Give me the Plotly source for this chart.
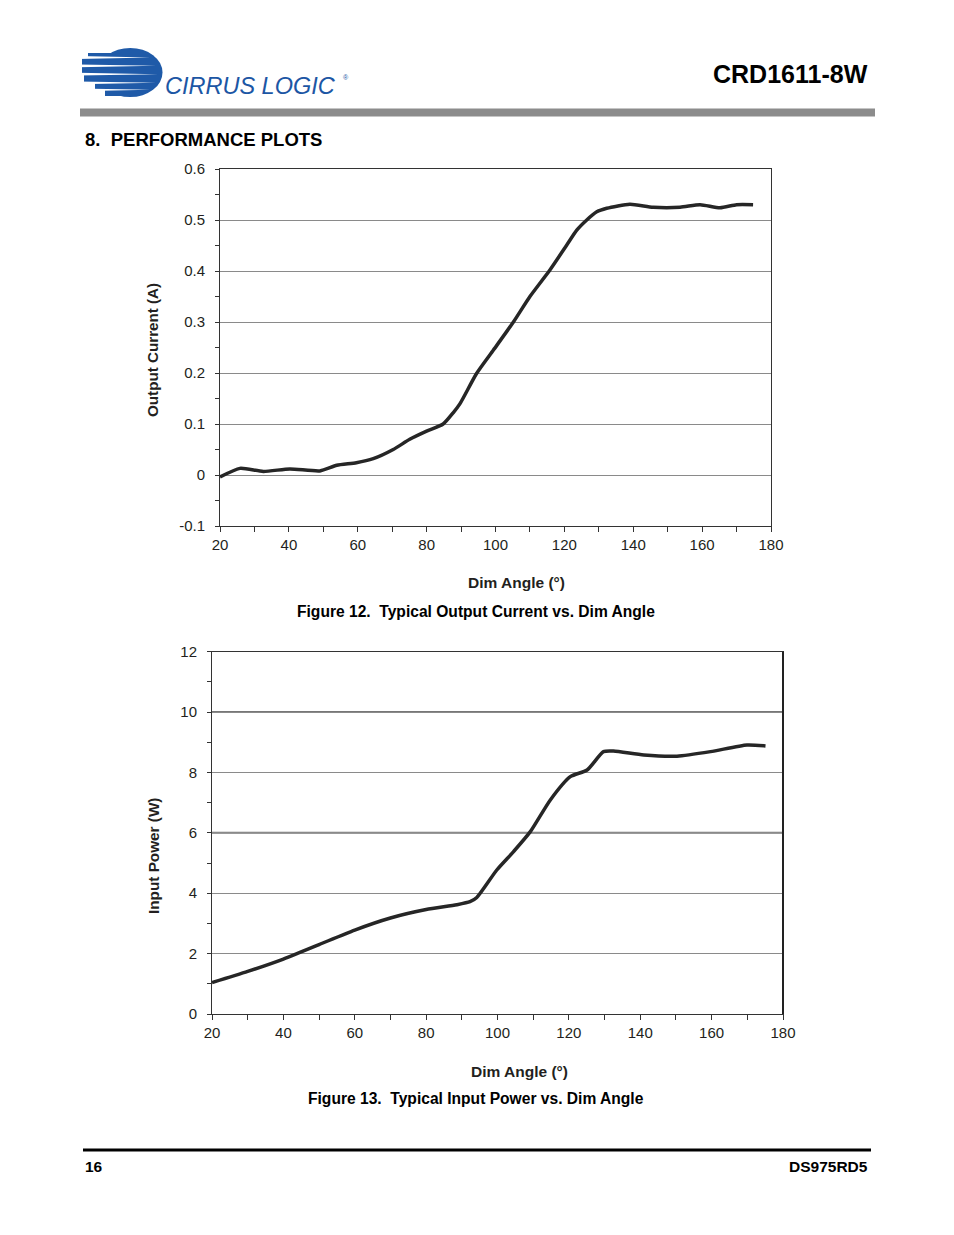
import plotly.graph_objects as go

# ---- data ----
angle_current = [20, 25.8, 32.6, 40.3, 49, 53.9, 59.6, 64.5, 70.3, 75.1, 80, 84.8, 87.7, 89.7,
                 94.5, 99.4, 105.2, 110, 115.8, 120.7, 123.6, 126.5, 129.4, 132.3, 139, 145.8,
                 153.6, 159.4, 165.2, 170, 174.8]
output_current = [-0.004, 0.013, 0.007, 0.012, 0.008, 0.019, 0.024, 0.032, 0.05, 0.07, 0.086, 0.1,
                  0.122, 0.14, 0.199, 0.245, 0.30, 0.35, 0.402, 0.451, 0.48, 0.50, 0.516, 0.523,
                  0.531, 0.525, 0.525, 0.530, 0.524, 0.530, 0.530]

angle_power = [20, 30, 40, 50, 60, 70, 80, 88.6, 92.3, 94.2, 99.8, 104.5, 109.2,
               114.8, 120.4, 125.1, 129.7, 132.5, 141, 150.3, 159.7, 169.9, 175.1]
input_power = [1.04, 1.41, 1.82, 2.30, 2.78, 3.18, 3.46, 3.62, 3.72, 3.86, 4.77, 5.38, 6.04,
               7.09, 7.86, 8.08, 8.69, 8.71, 8.58, 8.54, 8.69, 8.91, 8.88]

x_ticks = [20, 40, 60, 80, 100, 120, 140, 160, 180]
y1_ticks = [-0.1, 0, 0.1, 0.2, 0.3, 0.4, 0.5, 0.6]
y1_labels = ["-0.1", "0", "0.1", "0.2", "0.3", "0.4", "0.5", "0.6"]
y2_ticks = [0, 2, 4, 6, 8, 10, 12]
y2_labels = ["0", "2", "4", "6", "8", "10", "12"]
y2_bold_grid = [6, 10]

W, H = 954, 1235
def px(x):
    return x / W
def py(y):
    return 1 - y / H

FONT = "Liberation Sans, Arial, sans-serif"
TXT = "#231f20"
GRID = "#8a8a8a"
LINE = "#262626"

fig = go.Figure()
fig.add_trace(go.Scatter(x=angle_current, y=output_current, mode="lines",
                         line=dict(color=LINE, width=3.5, shape="spline", smoothing=0.6),
                         xaxis="x", yaxis="y", showlegend=False, hoverinfo="skip"))
fig.add_trace(go.Scatter(x=angle_power, y=input_power, mode="lines",
                         line=dict(color=LINE, width=3.5, shape="spline", smoothing=0.6),
                         xaxis="x2", yaxis="y2", showlegend=False, hoverinfo="skip"))

xaxis_common = dict(showline=True, mirror=True, linecolor="#333333", linewidth=1,
                    ticks="outside", tickcolor="#333333", ticklen=5, tickwidth=1,
                    tickfont=dict(family=FONT, size=15, color=TXT), zeroline=False,
                    fixedrange=True, range=[20, 180], tickvals=x_ticks, showgrid=False,
                    ticklabelstandoff=0,
                    minor=dict(dtick=10, tick0=0, ticks="outside", ticklen=5,
                               tickcolor="#333333", showgrid=False))
yaxis_common = dict(showline=True, mirror=True, linecolor="#333333", linewidth=1,
                    ticks="outside", tickcolor="#333333", ticklen=4, tickwidth=1,
                    tickfont=dict(family=FONT, size=15, color=TXT), zeroline=False,
                    fixedrange=True, showgrid=True, gridcolor=GRID, gridwidth=1,
                    ticklabelstandoff=7)

fig.update_layout(
    autosize=True, margin=dict(l=0, r=0, t=0, b=0, autoexpand=False),
    paper_bgcolor="white", plot_bgcolor="white",
    font=dict(family=FONT, color=TXT),
    xaxis=dict(domain=[px(220), px(771)], anchor="y", **xaxis_common),
    yaxis=dict(domain=[py(526), py(169)], anchor="x", range=[-0.1, 0.6],
               tickvals=y1_ticks, ticktext=y1_labels,
               minor=dict(dtick=0.05, tick0=0, ticks="outside", ticklen=4,
                          tickcolor="#333333", showgrid=False),
               **yaxis_common),
    xaxis2=dict(domain=[px(212), px(783)], anchor="y2", **xaxis_common),
    yaxis2=dict(domain=[py(1014), py(651.7)], anchor="x2", range=[0, 12],
                tickvals=y2_ticks, ticktext=y2_labels,
                minor=dict(dtick=1, tick0=0, ticks="outside", ticklen=4,
                           tickcolor="#333333", showgrid=False),
                **yaxis_common),
)

shapes = []
# header gray bar
shapes.append(dict(type="rect", xref="paper", yref="paper", x0=px(80), x1=px(875), y0=py(116.5), y1=py(108.5),
                   fillcolor="#8c8c8c", line=dict(width=0), layer="below"))
# footer line
shapes.append(dict(type="line", xref="paper", yref="paper", x0=px(83), x1=px(871), y0=py(1150), y1=py(1150),
                   line=dict(color="black", width=3)))
# thicker right border on plot 2
shapes.append(dict(type="line", xref="paper", yref="paper", x0=px(783), x1=px(783), y0=py(1014), y1=py(651.7),
                   line=dict(color="#222222", width=2)))
# heavier grid lines in plot 2 (as in the scanned reference)
for g in y2_bold_grid:
    shapes.append(dict(type="line", xref="x2 domain", yref="y2", x0=0, x1=1, y0=g, y1=g,
                       line=dict(color="#777777", width=2), layer="below"))

# Cirrus Logic logo (decorative)
BLUE = "#1f5aa8"
shapes.append(dict(type="circle", xref="paper", yref="paper", x0=px(98), x1=px(162.5), y0=py(97), y1=py(48),
                   fillcolor=BLUE, line=dict(width=0)))
extensions = [  # (y_top, y_bottom, x_left)
    (53.0, 57.5, 88),
    (57.5, 65.8, 82),
    (65.8, 74.2, 82),
    (74.2, 82.8, 84),
    (82.8, 89.8, 95),
    (89.8, 96.0, 105),
]
for (yt, yb, xl) in extensions:
    shapes.append(dict(type="rect", xref="paper", yref="paper", x0=px(xl), x1=px(130), y0=py(yb), y1=py(yt),
                       fillcolor=BLUE, line=dict(width=0)))
gaps = [(57.5, 150), (65.8, 156), (74.2, 158), (82.8, 156), (89.8, 150)]
for (gy, gx) in gaps:
    path = "M {a},{b} L {c},{d} L {e},{f} Z".format(
        a=px(78), b=py(gy - 1.4), c=px(78), d=py(gy + 1.4), e=px(gx), f=py(gy))
    shapes.append(dict(type="path", xref="paper", yref="paper", path=path,
                       fillcolor="white", line=dict(width=0)))
fig.update_layout(shapes=shapes)

ann = []
def text(x, y, s, size, bold=False, xanchor="center", color=TXT, italic=False, angle=0, family=FONT):
    if bold:
        s = "<b>" + s + "</b>"
    if italic:
        s = "<i>" + s + "</i>"
    ann.append(dict(x=px(x), y=py(y), xref="paper", yref="paper", text=s, showarrow=False,
                    xanchor=xanchor, yanchor="middle", textangle=angle,
                    font=dict(family=family, size=size, color=color)))

text(163, 86, "CIRRUS LOGIC", 23.5, xanchor="left", color="#1c56a4", italic=True)
text(341, 78, "®", 7, xanchor="left", color=BLUE)
text(870, 74, "CRD1611-8W", 25, bold=True, xanchor="right", color="black")
text(83, 140, "8.  PERFORMANCE PLOTS", 18.5, bold=True, xanchor="left", color="black")

text(152, 350, "Output Current (A)", 15.2, bold=True, angle=-90)
text(516, 583, "Dim Angle (°)", 15.5, bold=True)
text(476, 611, "Figure 12.  Typical Output Current vs. Dim Angle", 15.6, bold=True, color="black")

text(153, 856, "Input Power (W)", 15.3, bold=True, angle=-90)
text(519, 1071, "Dim Angle (°)", 15.5, bold=True)
text(476, 1098, "Figure 13.  Typical Input Power vs. Dim Angle", 15.6, bold=True, color="black")

text(83, 1166, "16", 15.5, bold=True, xanchor="left", color="black")
text(870, 1166, "DS975RD5", 15.5, bold=True, xanchor="right", color="black")

fig.update_layout(annotations=ann)
fig.write_html("out.html",
               default_width="100vw", default_height="100vh",
               config=dict(displayModeBar=False, responsive=True),
               post_script="document.body.style.margin='0';document.body.style.padding='0';"
                           "document.documentElement.style.overflow='hidden';"
                           "document.body.style.overflow='hidden';")
